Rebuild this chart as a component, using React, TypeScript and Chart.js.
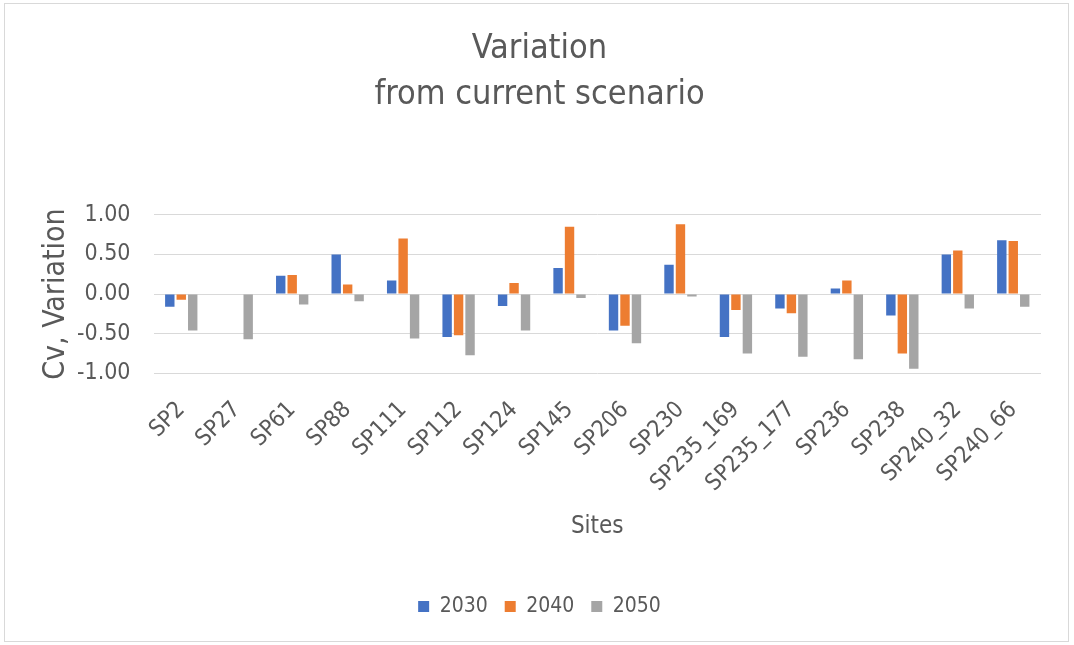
import React, { useEffect, useRef } from "react";
import { Chart, registerables } from "chart.js";

Chart.register(...registerables);

const categories = [
  "SP2", "SP27", "SP61", "SP88", "SP111", "SP112", "SP124", "SP145",
  "SP206", "SP230", "SP235_169", "SP235_177", "SP236", "SP238", "SP240_32", "SP240_66",
];
const values2030 = [-0.16, null, 0.23, 0.5, 0.17, -0.54, -0.15, 0.33, -0.46, 0.37, -0.54, -0.18, 0.07, -0.27, 0.5, 0.68];
const values2040 = [-0.07, null, 0.24, 0.12, 0.7, -0.52, 0.14, 0.85, -0.4, 0.88, -0.2, -0.24, 0.17, -0.75, 0.55, 0.67];
const values2050 = [-0.46, -0.57, -0.13, -0.09, -0.56, -0.77, -0.46, -0.05, -0.62, -0.03, -0.75, -0.79, -0.82, -0.94, -0.18, -0.16];
const seriesNames = ["2030", "2040", "2050"];
const titleLines = ["Variation", "from current scenario"];
const yTitle = "Cv, Variation";
const xTitle = "Sites";

const FONT = "'DejaVu Sans Condensed', 'Liberation Sans', sans-serif";
const TEXT = "#595959";

const borderPlugin = {
  id: "outerBorder",
  afterDraw(chart: any) {
    const ctx = chart.ctx;
    ctx.save();
    ctx.strokeStyle = "#d9d9d9";
    ctx.lineWidth = 1;
    ctx.strokeRect(4.5, 3.5, 1064, 638);
    ctx.restore();
  },
};

export default function App() {
  const ref = useRef<HTMLCanvasElement>(null);
  useEffect(() => {
    document.body.style.margin = "0";
    const chart = new Chart(ref.current!, {
      type: "bar",
      data: {
        labels: categories,
        datasets: [
          { label: seriesNames[0], data: values2030, backgroundColor: "#4472C4" },
          { label: seriesNames[1], data: values2040, backgroundColor: "#ED7D31" },
          { label: seriesNames[2], data: values2050, backgroundColor: "#A5A5A5" },
        ],
      },
      options: {
        responsive: false,
        animation: false,
        maintainAspectRatio: false,
        datasets: { bar: { categoryPercentage: 0.62, barPercentage: 0.82 } },
        layout: { autoPadding: false, padding: { left: 38, right: 33, top: 4, bottom: 18 } },
        plugins: {
          title: {
            display: true,
            text: titleLines,
            color: TEXT,
            font: { family: FONT, size: 34, weight: "normal", lineHeight: 1.35 },
            padding: { top: 22, bottom: 97 },
          },
          legend: {
            position: "bottom",
            labels: {
              color: TEXT,
              font: { family: FONT, size: 21 },
              boxWidth: 11,
              boxHeight: 11,
              padding: 17,
            },
          },
          tooltip: { enabled: false },
        },
        scales: {
          x: {
            grid: { display: false },
            border: { display: false },
            afterFit: (scale: any) => {
              scale.paddingLeft = 0;
              scale.paddingRight = 0;
            },
            ticks: {
              color: TEXT,
              font: { family: FONT, size: 23 },
              minRotation: 45,
              maxRotation: 45,
              autoSkip: false,
              padding: 15,
            },
            title: {
              display: true,
              text: xTitle,
              color: TEXT,
              font: { family: FONT, size: 24 },
              padding: { top: 0, bottom: 38 },
            },
          },
          y: {
            min: -1,
            max: 1,
            grid: { color: "#d9d9d9", lineWidth: 1, drawTicks: false },
            border: { display: false },
            ticks: {
              stepSize: 0.5,
              color: TEXT,
              font: { family: FONT, size: 23 },
              padding: 23,
              callback: (v: any) => Number(v).toFixed(2),
            },
            title: {
              display: true,
              text: yTitle,
              color: TEXT,
              font: { family: FONT, size: 30 },
              padding: { top: 0, bottom: -20 },
            },
          },
        },
      },
      plugins: [borderPlugin],
    });
    return () => chart.destroy();
  }, []);
  return (
    <div style={{ position: "absolute", left: 0, top: 0, width: 1074, height: 645 }}>
      <canvas ref={ref} width={1074} height={645} style={{ display: "block" }} />
    </div>
  );
}
